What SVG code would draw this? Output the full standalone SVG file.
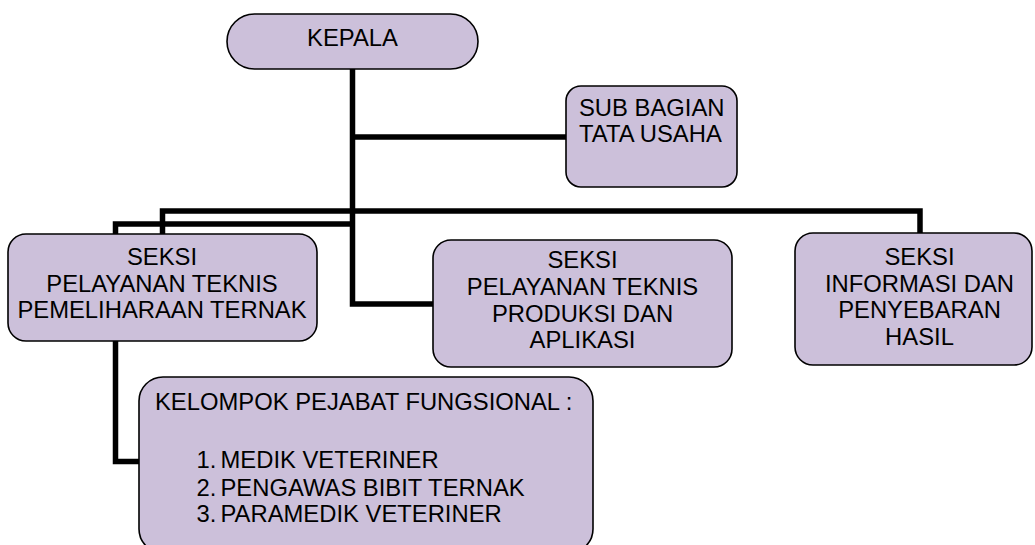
<svg xmlns="http://www.w3.org/2000/svg" width="1035" height="545" viewBox="0 0 1035 545">
<style>
.box{fill:#CCC0DA;stroke:#000;stroke-width:1.6}
.conn{fill:none;stroke:#000;stroke-width:5.5;stroke-linejoin:miter;stroke-linecap:butt}
text{font-family:"Liberation Sans",Arial,sans-serif;font-size:23.8px;fill:#000}
.c{text-anchor:middle}
</style>
<rect width="1035" height="545" fill="#fff"/>
<g id="connectors">
<path class="conn" d="M352.5,69 V304 H433"/>
<path class="conn" d="M352.5,137 H566"/>
<path class="conn" d="M162.5,234 V211 H920 V233"/>
<path class="conn" d="M352.5,224 H115.5 V234"/>
<path class="conn" d="M115.5,341 V461.5 H139"/>
</g>
<g id="kepala">
<rect class="box" x="227" y="14" width="251" height="55" rx="27.5" ry="27.5"/>
<text class="c" x="352.5" y="46">KEPALA</text>
</g>
<g id="sub-bagian">
<rect class="box" x="566" y="86" width="171" height="101" rx="15" ry="15"/>
<text x="579" y="116">SUB BAGIAN</text>
<text x="579" y="142">TATA USAHA</text>
</g>
<g id="seksi-pemeliharaan">
<rect class="box" x="8" y="234" width="309" height="107" rx="18" ry="18"/>
<text class="c" x="162" y="265">SEKSI</text>
<text class="c" x="162" y="291.5">PELAYANAN TEKNIS</text>
<text class="c" x="162" y="318">PEMELIHARAAN TERNAK</text>
</g>
<g id="seksi-produksi">
<rect class="box" x="433" y="240" width="299" height="127" rx="18" ry="18"/>
<text class="c" x="582.5" y="268">SEKSI</text>
<text class="c" x="582.5" y="295">PELAYANAN TEKNIS</text>
<text class="c" x="582.5" y="321.5">PRODUKSI DAN</text>
<text class="c" x="582.5" y="348">APLIKASI</text>
</g>
<g id="seksi-informasi">
<rect class="box" x="795" y="233" width="237" height="132" rx="18" ry="18"/>
<text class="c" x="919.5" y="265">SEKSI</text>
<text class="c" x="919.5" y="291.5">INFORMASI DAN</text>
<text class="c" x="919.5" y="318">PENYEBARAN</text>
<text class="c" x="919.5" y="345">HASIL</text>
</g>
<g id="kelompok">
<rect class="box" x="139" y="377" width="454" height="176" rx="24" ry="24"/>
<text x="155" y="410">KELOMPOK PEJABAT FUNGSIONAL :</text>
<text x="196.5" y="468">1.</text><text x="220.5" y="468">MEDIK VETERINER</text>
<text x="196.5" y="496">2.</text><text x="220.5" y="496">PENGAWAS BIBIT TERNAK</text>
<text x="196.5" y="521.5">3.</text><text x="220.5" y="521.5">PARAMEDIK VETERINER</text>
</g>
</svg>
